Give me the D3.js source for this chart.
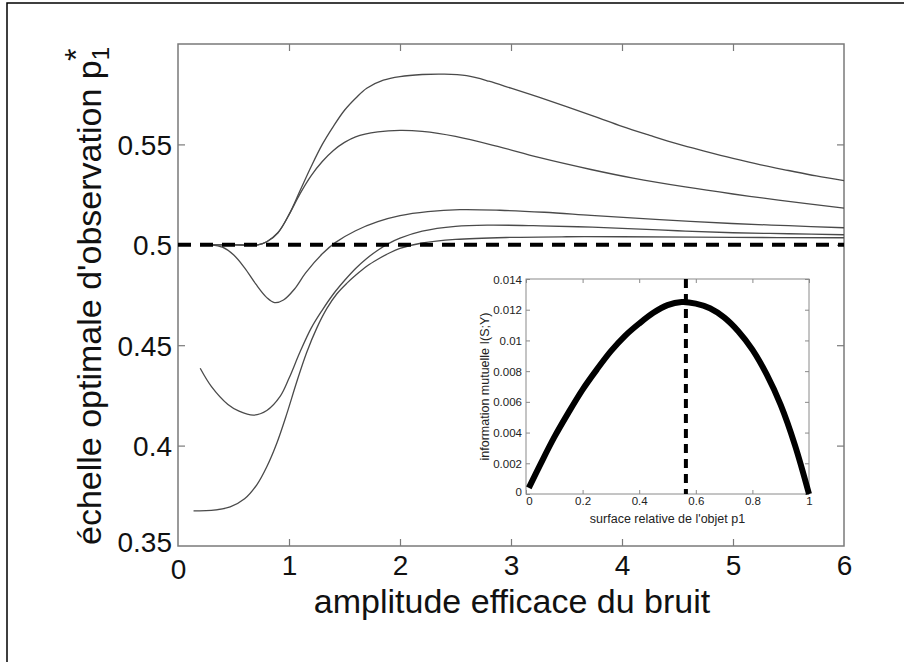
<!DOCTYPE html>
<html>
<head>
<meta charset="utf-8">
<script src="https://cdn.jsdelivr.net/npm/d3@7"></script>
<style>
  body { margin: 0; background: #fff; }
  svg { font-family: "Liberation Sans", Arial, sans-serif; }
</style>
</head>
<body>
<script>
// main plot: optimal observation scale vs noise amplitude
const xTicks = [0, 1, 2, 3, 4, 5, 6];
const yTicks = [0.35, 0.4, 0.45, 0.5, 0.55];
const refLevel = 0.5;

const curveA = [[0.3,0.5],[0.5,0.5],[0.72,0.5],[0.8,0.5015],[0.9,0.506],[1.0,0.515],[1.1,0.527],[1.2,0.539],[1.3,0.55],[1.4,0.559],[1.5,0.567],[1.6,0.573],[1.7,0.578],[1.85,0.582],[2.0,0.5838],[2.2,0.5848],[2.4,0.585],[2.6,0.5842],[2.8,0.5815],[3.0,0.578],[3.25,0.5735],[3.5,0.5688],[3.75,0.564],[4.0,0.559],[4.25,0.5545],[4.5,0.5502],[4.75,0.5465],[5.0,0.543],[5.25,0.5398],[5.5,0.537],[5.75,0.5343],[6.0,0.532]];
const curveB = [[0.3,0.5],[0.5,0.5],[0.72,0.5],[0.8,0.5015],[0.9,0.506],[1.0,0.515],[1.1,0.5255],[1.2,0.5345],[1.3,0.5415],[1.4,0.547],[1.5,0.551],[1.6,0.5538],[1.8,0.5562],[2.0,0.557],[2.2,0.5565],[2.5,0.554],[2.88,0.549],[3.25,0.5435],[3.72,0.5375],[4.1,0.5332],[4.57,0.5288],[5.0,0.5253],[5.41,0.5223],[6.0,0.5183]];
const curveC = [[0.3,0.5],[0.4,0.4988],[0.5,0.495],[0.6,0.4885],[0.7,0.4805],[0.8,0.4737],[0.87,0.4712],[0.95,0.4725],[1.05,0.478],[1.15,0.486],[1.3,0.4955],[1.42,0.5012],[1.6,0.507],[1.8,0.5115],[2.0,0.5145],[2.25,0.5165],[2.54,0.5175],[2.9,0.5172],[3.3,0.5162],[3.72,0.5147],[4.3,0.5127],[4.99,0.5106],[5.5,0.5095],[6.0,0.5085]];
const curveD = [[0.2,0.4385],[0.3,0.4295],[0.45,0.4205],[0.55,0.4172],[0.68,0.4152],[0.8,0.4175],[0.92,0.4245],[1.0,0.4335],[1.1,0.4467],[1.2,0.4585],[1.3,0.4675],[1.4,0.4755],[1.5,0.4822],[1.6,0.4882],[1.7,0.4932],[1.8,0.4973],[1.9,0.5007],[2.0,0.5033],[2.2,0.5068],[2.5,0.5092],[2.8,0.5098],[3.2,0.5095],[3.6,0.509],[4.0,0.5082],[4.5,0.507],[5.0,0.506],[5.5,0.5055],[6.0,0.505]];
const curveE = [[0.14,0.3675],[0.3,0.3677],[0.47,0.3695],[0.6,0.3735],[0.71,0.3805],[0.8,0.3895],[0.89,0.4012],[0.98,0.4158],[1.07,0.4318],[1.16,0.4465],[1.25,0.4585],[1.34,0.4682],[1.43,0.4755],[1.52,0.4808],[1.6,0.4848],[1.7,0.4893],[1.8,0.4928],[1.9,0.4958],[2.0,0.4982],[2.2,0.5009],[2.5,0.5027],[3.0,0.5037],[3.5,0.504],[4.0,0.504],[5.0,0.5037],[6.0,0.5035]];
const curves = [curveA, curveB, curveC, curveD, curveE];

// inset: mutual information vs relative object surface
const insetXTicks = [0, 0.2, 0.4, 0.6, 0.8, 1];
const insetYTicks = [0, 0.002, 0.004, 0.006, 0.008, 0.01, 0.012, 0.014];
const surfaceP = [0.01, 0.05, 0.1, 0.15, 0.2, 0.25, 0.3, 0.35, 0.4, 0.45, 0.5, 0.55, 0.6, 0.65, 0.7, 0.75, 0.8, 0.85, 0.9, 0.95, 1.0];
const mutualInfo = [0.0004, 0.0019, 0.0037, 0.0053, 0.0068, 0.0081, 0.0093, 0.0103, 0.0111, 0.0118, 0.0123, 0.0125, 0.0124, 0.0121, 0.0115, 0.0106, 0.0094, 0.0078, 0.0058, 0.0032, 0.0];
const optimumP = 0.565;

const W = 904, H = 662;
const svg = d3.select('body').append('svg')
    .attr('width', W)
    .attr('height', H);

svg.append('rect').attr('width', W).attr('height', H).attr('fill', '#fff');

// page frame (top and left edges of the scanned page)
svg.append('path')
    .attr('d', `M7,${H} L7,3 L${W},3`)
    .attr('fill', 'none')
    .attr('stroke', '#000')
    .attr('stroke-width', 1.5);

const mLeft = 178, mRight = 844, mTop = 44, mBottom = 546;
const x = d3.scaleLinear().domain([0, 6]).range([mLeft, mRight]);
const y = d3.scaleLinear().domain([0.35, 0.6]).range([mBottom, mTop]);

const axisColor = '#7a7a7a';
const tickLen = 7;

// box + inward ticks
svg.append('rect')
    .attr('x', mLeft).attr('y', mTop)
    .attr('width', mRight - mLeft).attr('height', mBottom - mTop)
    .attr('fill', 'none').attr('stroke', axisColor).attr('stroke-width', 1.5);

const gx = svg.append('g').attr('transform', `translate(0,${mBottom})`)
    .call(d3.axisBottom(x).tickValues(xTicks).tickSize(-tickLen).tickPadding(9).tickFormat(d3.format('d')));
const gxTop = svg.append('g').attr('transform', `translate(0,${mTop})`)
    .call(d3.axisTop(x).tickValues(xTicks).tickSize(-tickLen).tickFormat(''));
const gy = svg.append('g').attr('transform', `translate(${mLeft},0)`)
    .call(d3.axisLeft(y).tickValues(yTicks).tickSize(-tickLen).tickPadding(6).tickFormat(d => String(+d.toFixed(2))));
const gyRight = svg.append('g').attr('transform', `translate(${mRight},0)`)
    .call(d3.axisRight(y).tickValues(yTicks).tickSize(-tickLen).tickFormat(''));

[gx, gxTop, gy, gyRight].forEach(g => {
    g.select('.domain').remove();
    g.selectAll('.tick line').attr('stroke', axisColor).attr('stroke-width', 1.2);
    g.selectAll('.tick text').attr('fill', '#111').attr('font-size', 28);
});
gx.selectAll('.tick text').attr('dy', '0.72em');
gy.selectAll('.tick text').attr('dy', '0.36em');
// end ticks coincide with box edges, hide them
[gx, gxTop].forEach(g => g.selectAll('.tick line').filter(d => d === 0 || d === 6).remove());
[gy, gyRight].forEach(g => g.selectAll('.tick line').filter(d => d === 0.35).remove());
// 0.35 label sits slightly higher, 0 label offset like original
gy.selectAll('.tick text').filter(d => d === 0.35).attr('dy', '0.2em');
gx.selectAll('.tick text').filter(d => d === 0).attr('dy', '0.85em');

const line = d3.line()
    .x(d => x(d[0]))
    .y(d => y(d[1]))
    .curve(d3.curveCatmullRom.alpha(0.5));

svg.append('g')
    .selectAll('path')
    .data(curves)
    .enter().append('path')
    .attr('d', line)
    .attr('fill', 'none')
    .attr('stroke', '#4a4a4a')
    .attr('stroke-width', 1.3);

svg.append('line')
    .attr('x1', x(0)).attr('x2', x(6))
    .attr('y1', y(refLevel)).attr('y2', y(refLevel))
    .attr('stroke', '#000')
    .attr('stroke-width', 4)
    .attr('stroke-dasharray', '13,9');

// axis titles
svg.append('text')
    .attr('x', (mLeft + mRight) / 2 + 1)
    .attr('y', 613)
    .attr('text-anchor', 'middle')
    .attr('font-size', 34)
    .attr('fill', '#111')
    .text('amplitude efficace du bruit');

const yLab = svg.append('text')
    .attr('transform', 'translate(101,296) rotate(-90)')
    .attr('text-anchor', 'middle')
    .attr('font-size', 34)
    .attr('fill', '#111');
yLab.append('tspan').text("échelle optimale d'observation p");
yLab.append('tspan').attr('font-size', 24).attr('dy', 8).text('1');
yLab.append('tspan').attr('font-size', 32).attr('dx', -14).attr('dy', -22).text('*');

// inset
const iLeft = 526, iRight = 809, iTop = 279, iBottom = 494;
const ix = d3.scaleLinear().domain([0, 1]).range([iLeft, iRight]);
const iy = d3.scaleLinear().domain([0, 0.014]).range([iBottom, iTop]);
const insetColor = '#8a8a8a';
const iTick = 4;

svg.append('rect')
    .attr('x', iLeft).attr('y', iTop)
    .attr('width', iRight - iLeft).attr('height', iBottom - iTop)
    .attr('fill', '#fff').attr('stroke', insetColor).attr('stroke-width', 1);

const igx = svg.append('g').attr('transform', `translate(0,${iBottom})`)
    .call(d3.axisBottom(ix).tickValues(insetXTicks).tickSize(-iTick).tickPadding(3).tickFormat(d => String(d)));
const igxTop = svg.append('g').attr('transform', `translate(0,${iTop})`)
    .call(d3.axisTop(ix).tickValues(insetXTicks).tickSize(-iTick).tickFormat(''));
const igy = svg.append('g').attr('transform', `translate(${iLeft},0)`)
    .call(d3.axisLeft(iy).tickValues(insetYTicks).tickSize(-iTick).tickPadding(4).tickFormat(d => String(+d.toFixed(3))));
const igyRight = svg.append('g').attr('transform', `translate(${iRight},0)`)
    .call(d3.axisRight(iy).tickValues(insetYTicks).tickSize(-iTick).tickFormat(''));

[igx, igxTop, igy, igyRight].forEach(g => {
    g.select('.domain').remove();
    g.selectAll('.tick line').attr('stroke', insetColor);
    g.selectAll('.tick text').attr('fill', '#222').attr('font-size', 11.5);
});
igx.selectAll('.tick text').attr('dy', '0.7em');
igy.selectAll('.tick text').attr('dy', '0.35em');
igy.selectAll('.tick text').filter(d => d === 0).attr('dy', '0.1em');
igx.selectAll('.tick text').filter(d => d === 0).attr('dx', 3);

const infoLine = d3.line()
    .x((d, i) => ix(surfaceP[i]))
    .y(d => iy(d))
    .curve(d3.curveCatmullRom.alpha(0.5));

svg.append('path')
    .datum(mutualInfo)
    .attr('d', infoLine)
    .attr('fill', 'none')
    .attr('stroke', '#000')
    .attr('stroke-width', 6);

svg.append('line')
    .attr('x1', ix(optimumP)).attr('x2', ix(optimumP))
    .attr('y1', iTop).attr('y2', iBottom)
    .attr('stroke', '#000')
    .attr('stroke-width', 4)
    .attr('stroke-dasharray', '9,6');

svg.append('text')
    .attr('x', (iLeft + iRight) / 2)
    .attr('y', 523)
    .attr('text-anchor', 'middle')
    .attr('font-size', 12.5)
    .attr('fill', '#222')
    .text("surface relative de l'objet p1");

svg.append('text')
    .attr('transform', `translate(489,${(iTop + iBottom) / 2}) rotate(-90)`)
    .attr('text-anchor', 'middle')
    .attr('font-size', 12.5)
    .attr('fill', '#222')
    .text('information mutuelle I(S;Y)');
</script>
</body>
</html>
